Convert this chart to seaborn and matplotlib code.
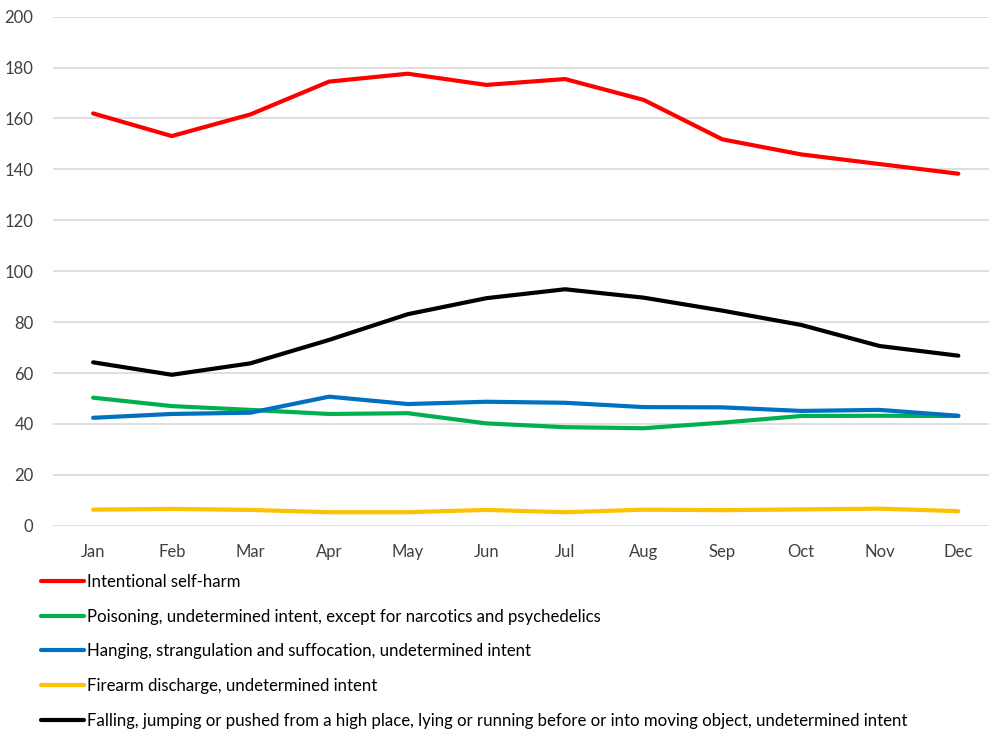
import matplotlib
matplotlib.use("Agg")
import matplotlib.pyplot as plt
import seaborn as sns
import pandas as pd
from matplotlib.lines import Line2D

months = ["Jan", "Feb", "Mar", "Apr", "May", "Jun", "Jul", "Aug", "Sep", "Oct", "Nov", "Dec"]

self_harm = [162.0, 153.1, 161.6, 174.5, 177.6, 173.2, 175.5, 167.3, 151.8, 145.9, 142.1, 138.3]
poisoning = [50.3, 47.0, 45.5, 43.9, 44.2, 40.2, 38.7, 38.3, 40.5, 43.1, 43.2, 43.1]
hanging = [42.4, 43.9, 44.4, 50.7, 47.8, 48.7, 48.3, 46.6, 46.5, 45.1, 45.5, 43.2]
firearm = [6.3, 6.6, 6.2, 5.3, 5.3, 6.2, 5.3, 6.3, 6.1, 6.4, 6.7, 5.7]
falling = [64.2, 59.3, 63.8, 73.0, 83.1, 89.4, 92.9, 89.6, 84.5, 78.9, 70.6, 66.8]

series_names = [
    "Intentional self-harm",
    "Poisoning, undetermined intent, except for narcotics and psychedelics",
    "Hanging, strangulation and suffocation, undetermined intent",
    "Firearm discharge, undetermined intent",
    "Falling, jumping or pushed from a high place, lying or running before or into moving object, undetermined intent",
]
series_values = [self_harm, poisoning, hanging, firearm, falling]
colors = ["#FF0000", "#00B050", "#0070C0", "#FFC000", "#000000"]

rows = []
for name, vals in zip(series_names, series_values):
    for i, (m, v) in enumerate(zip(months, vals)):
        rows.append({"series": name, "idx": i, "month": m, "value": v})
df = pd.DataFrame(rows)

sns.set_style("white")
plt.rcParams["font.family"] = ["Lato", "DejaVu Sans"]

fig = plt.figure(figsize=(9.89, 7.34), dpi=100)
ax = fig.add_axes([53 / 989, 1 - 525.7 / 734, 1 - 53 / 989, (525.7 - 16.7) / 734])

palette = dict(zip(series_names, colors))
sns.lineplot(data=df, x="idx", y="value", hue="series", hue_order=series_names,
             palette=palette, linewidth=3.0, ax=ax, legend=False, sort=False)

ax.set_ylim(0, 200)
ax.set_xlim(-0.51, 11.39)
ax.set_yticks(range(0, 201, 20))
ax.set_xticks(range(len(months)))
ax.set_xticklabels(months)
ax.set_xlabel("")
ax.set_ylabel("")
ax.grid(axis="y", color="#D9D9D9", linewidth=1.2)
ax.grid(axis="x", visible=False)
ax.set_axisbelow(True)
for s in ax.spines.values():
    s.set_visible(False)
ax.tick_params(axis="both", length=0, labelsize=12, colors="#404040")
ax.tick_params(axis="y", pad=14)
ax.tick_params(axis="x", pad=13)

handles = [Line2D([0], [0], color=c, linewidth=3.0) for c in colors]
fig.legend(handles, series_names, loc="upper left", bbox_to_anchor=(34 / 989, 1 - 567 / 734),
           frameon=False, fontsize=12.1, handlelength=2.6, handletextpad=0.15,
           labelspacing=1.12, labelcolor="#000000", borderaxespad=0)

fig.savefig("out.png", dpi=100, facecolor="white")
